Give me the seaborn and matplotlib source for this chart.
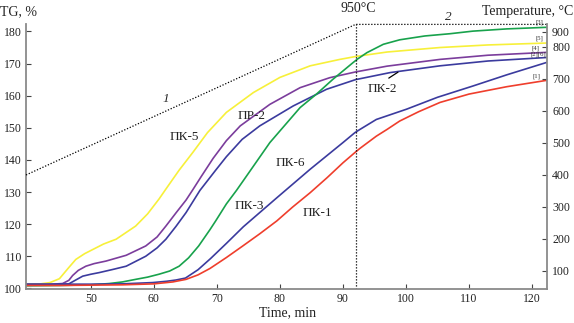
import numpy as np
import pandas as pd
import matplotlib
matplotlib.use("Agg")
import matplotlib.pyplot as plt
import seaborn as sns

# ---------------- data ----------------
t_pk5 = [39.7, 42, 43.5, 45, 46.5, 47.6, 49, 50.3, 52, 54, 57.1, 59, 60.8, 62, 64, 66.2, 68.5, 71.5,
         75.8, 80, 84.8, 89.5, 92, 97, 105.4, 113, 122.4]
v_pk5 = [101.3, 101.4, 101.8, 103, 106.5, 109, 110.8, 112.1, 113.8, 115.3, 119.4, 123.2, 127.8, 131.2,
         136.8, 142.4, 148.5, 154.8, 161, 165.7, 169.3, 171.3, 172.2, 173.6, 175, 175.8, 176.4]

t_pr2 = [39.7, 43, 45.5, 46.5, 47.1, 48, 49.2, 50.5, 52.4, 55.6, 58.7, 60.5, 61.9, 63.5, 65.1, 66.2,
         67.5, 69.4, 71.5, 73.7, 78.4, 83.2, 87.9, 92, 97, 105.4, 113, 122.4]
v_pr2 = [101.2, 101.2, 101.5, 102.5, 104, 105.6, 106.9, 107.7, 108.5, 110.3, 113.2, 116, 119.4, 123.5,
         127.5, 130.8, 134.8, 140.5, 146, 150.6, 157.3, 162.5, 165.6, 167.4, 169.2, 171.3, 172.6, 173.5]

t_pk2 = [39.7, 44, 46.5, 47.5, 48.7, 50, 51.3, 53.5, 55.6, 58.7, 60.5, 61.9, 63.5, 65.1, 67.3, 69.8,
         71.5, 74, 76.8, 82.1, 87.4, 92, 97.5, 105.4, 113, 122.4]
v_pk2 = [101.2, 101.2, 101.4, 102.5, 103.8, 104.4, 104.9, 105.9, 106.9, 110, 112.6, 115.3, 119.3, 123.6,
         130.5, 136.8, 141, 146.4, 150.6, 156.8, 162, 165, 167.2, 169.3, 170.8, 171.9]

t_pk3 = [39.7, 45, 50, 52.9, 55, 57.1, 59, 60.8, 62.5, 64, 65.5, 67.1, 68.9, 69.8, 71.5, 73.1, 74.1,
         78.4, 82.1, 83.2, 85.8, 88.4, 90, 91.6, 92.3, 93.8, 96.4, 99, 103, 107, 110.6, 116, 122.4]
v_pk3 = [100.8, 100.9, 101.1, 101.5, 102, 102.8, 103.5, 104.4, 105.4, 106.9, 109.5, 113.2, 118.3, 121,
         126.3, 130.5, 133.3, 145.4, 153.8, 156.3, 160.5, 165.1, 167.7, 170.3, 171.4, 173.4, 176, 177.4,
         178.6, 179.3, 180.1, 180.8, 181.3]

t_pk6 = [39.7, 45, 50, 55, 59.8, 62, 63.5, 65, 67, 69, 71.5, 74.2, 79.5, 84.8, 90, 91.9, 92.7, 95.3,
         100.1, 105, 110.6, 116, 122.4]
v_pk6 = [101.3, 101.3, 101.3, 101.4, 101.8, 102.2, 102.6, 103.2, 105.8, 109.3, 114, 119.2, 128.2, 137.1,
         145.4, 148.5, 149.5, 152.6, 155.8, 159.5, 163, 166.5, 170.4]

t_pk1 = [39.7, 45, 50, 55, 60, 63, 65.1, 67, 68.9, 71.5, 74.1, 76.8, 79.5, 82, 84.8, 87.5, 90, 91.9,
         92.7, 95.3, 97, 99, 102, 105.4, 110, 116, 122.4]
v_pk1 = [100.9, 100.9, 101, 101.1, 101.4, 102, 102.8, 104.2, 106.2, 109.6, 113.2, 117, 121, 125.3,
         129.8, 134.5, 139.1, 142.3, 143.6, 147.4, 149.5, 152.1, 155, 157.9, 160.5, 162.8, 164.8]

# temperature programme (heating, then isotherm)
t_temp = [39.7, 92, 122.4]
v_temp = [400, 950, 950]
HOLD_START = 92

series_names = ["ПК-5", "ПР-2", "ПК-2", "ПК-3", "ПК-6", "ПК-1"]
series_t = [t_pk5, t_pr2, t_pk2, t_pk3, t_pk6, t_pk1]
series_v = [v_pk5, v_pr2, v_pk2, v_pk3, v_pk6, v_pk1]
colors = {"ПК-5": "#f7f03a", "ПР-2": "#7b3d9c", "ПК-2": "#3b3b9e",
          "ПК-3": "#18a24c", "ПК-6": "#3b3b9e", "ПК-1": "#ef3e2c"}

x_ticks = [50, 60, 70, 80, 90, 100, 110, 120]
tg_ticks = [100, 110, 120, 130, 140, 150, 160, 170, 180]
temp_ticks = [100, 200, 300, 400, 500, 600, 700, 800, 900]

# ---------------- style ----------------
sns.set_style("ticks")
plt.rcParams["font.family"] = ["Liberation Serif", "DejaVu Serif"]
plt.rcParams["lines.solid_joinstyle"] = "round"

W, H = 574, 323
fig = plt.figure(figsize=(W / 100, H / 100), dpi=100)
ax_l, ax_r, ax_t, ax_b = 26, 546.5, 24.4, 289
ax = fig.add_axes([ax_l / W, 1 - ax_b / H, (ax_r - ax_l) / W, (ax_b - ax_t) / H])
ax2 = ax.twinx()

rows = []
for n, ts, vs in zip(series_names, series_t, series_v):
    for tt, vv in zip(ts, vs):
        rows.append((n, tt, vv))
df = pd.DataFrame(rows, columns=["name", "t", "v"])

sns.lineplot(data=df, x="t", y="v", hue="name", palette=colors, ax=ax,
             legend=False, sort=False, estimator=None, linewidth=1.2)

# temperature axis: linear up to 800, compressed above
K = 0.47
def fwd(y):
    y = np.asarray(y, dtype=float)
    return np.where(y <= 800, y, 800 + (y - 800) * K)
def inv(y):
    y = np.asarray(y, dtype=float)
    return np.where(y <= 800, y, 800 + (y - 800) / K)

ax2.set_yscale("function", functions=(fwd, inv))
df_temp = pd.DataFrame({"t": t_temp, "T": v_temp})
sns.lineplot(data=df_temp, x="t", y="T", ax=ax2, color="black", linewidth=0.9,
             linestyle=(0, (1, 1.4)), legend=False, sort=False, estimator=None)
for l in ax2.lines:
    l.set_clip_on(False)
ax.axvline(HOLD_START, color="black", linewidth=0.9, linestyle=(0, (1, 1.4)))

ax.set_xlim(39.7, 122.3)
ax.set_ylim(99.8, 182.2)
ax2.set_ylim(43.75, 950)

ax.set_xticks(x_ticks)
ax.set_yticks(tg_ticks)
ax2.set_yticks(temp_ticks)
ax2.yaxis.set_minor_locator(matplotlib.ticker.NullLocator())
ax.set_xlabel("")
ax.set_ylabel("")
ax2.set_ylabel("")

spine_c = "#8a8a8a"
for a in (ax, ax2):
    a.spines["top"].set_visible(False)
    for s in a.spines.values():
        s.set_color(spine_c)
        s.set_linewidth(1.3)
ax.spines["right"].set_visible(False)
ax2.spines["left"].set_visible(False)
ax2.spines["bottom"].set_visible(False)

ax.tick_params(axis="both", direction="in", length=3.5, width=0.8, color="#444444",
               labelsize=8.5, pad=3, labelcolor="#222222")
ax2.tick_params(axis="y", direction="in", length=3.5, width=0.8, color="#444444",
                labelsize=8.5, pad=4, labelcolor="#222222")

# axis titles
fig.text(0 / W, 1 - 12 / H, "TG, %", fontsize=10, ha="left", va="center", color="#222222")
fig.text(573 / W, 1 - 12 / H, "Temperature, °C", fontsize=10, ha="right", va="center", color="#222222")
fig.text(288 / W, 1 - 313 / H, "Time, min", fontsize=10, ha="center", va="center", color="#222222")

# curve labels
lab_kw = dict(fontsize=9.5, ha="center", va="center", color="#222222")
ax.text(64.9, 147, "ПК-5", **lab_kw)
ax.text(75.5, 153.7, "ПР-2", **lab_kw)
ax.text(81.7, 139, "ПК-6", **lab_kw)
ax.text(75.1, 125.5, "ПК-3", **lab_kw)
ax.text(85.9, 123.4, "ПК-1", **lab_kw)
ax.text(96.3, 162, "ПК-2", **lab_kw)
ax.annotate("", xy=(99.1, 167.8), xytext=(96.9, 165.0),
            arrowprops=dict(arrowstyle="-", color="black", lw=0.9))

ax.text(61.9, 158.9, "1", fontsize=9.5, style="italic", ha="center", va="center")
ax.text(106.7, 184.6, "2", fontsize=9.5, style="italic", ha="center", va="center")
ax.text(92.5, 187.0, "950°C", fontsize=10, ha="center", va="center", color="#222222")

# end markers
end_kw = dict(fontsize=4.8, ha="center", va="center", color="#333333")
ax.text(121.2, 182.8, "[3]", **end_kw)
ax.text(121.2, 177.9, "[5]", **end_kw)
ax.text(120.6, 174.7, "[4]", **end_kw)
ax.text(121.0, 172.9, "[2][6]", **end_kw)
ax.text(120.7, 166.1, "[1]", **end_kw)

fig.savefig("out.png", dpi=100)
